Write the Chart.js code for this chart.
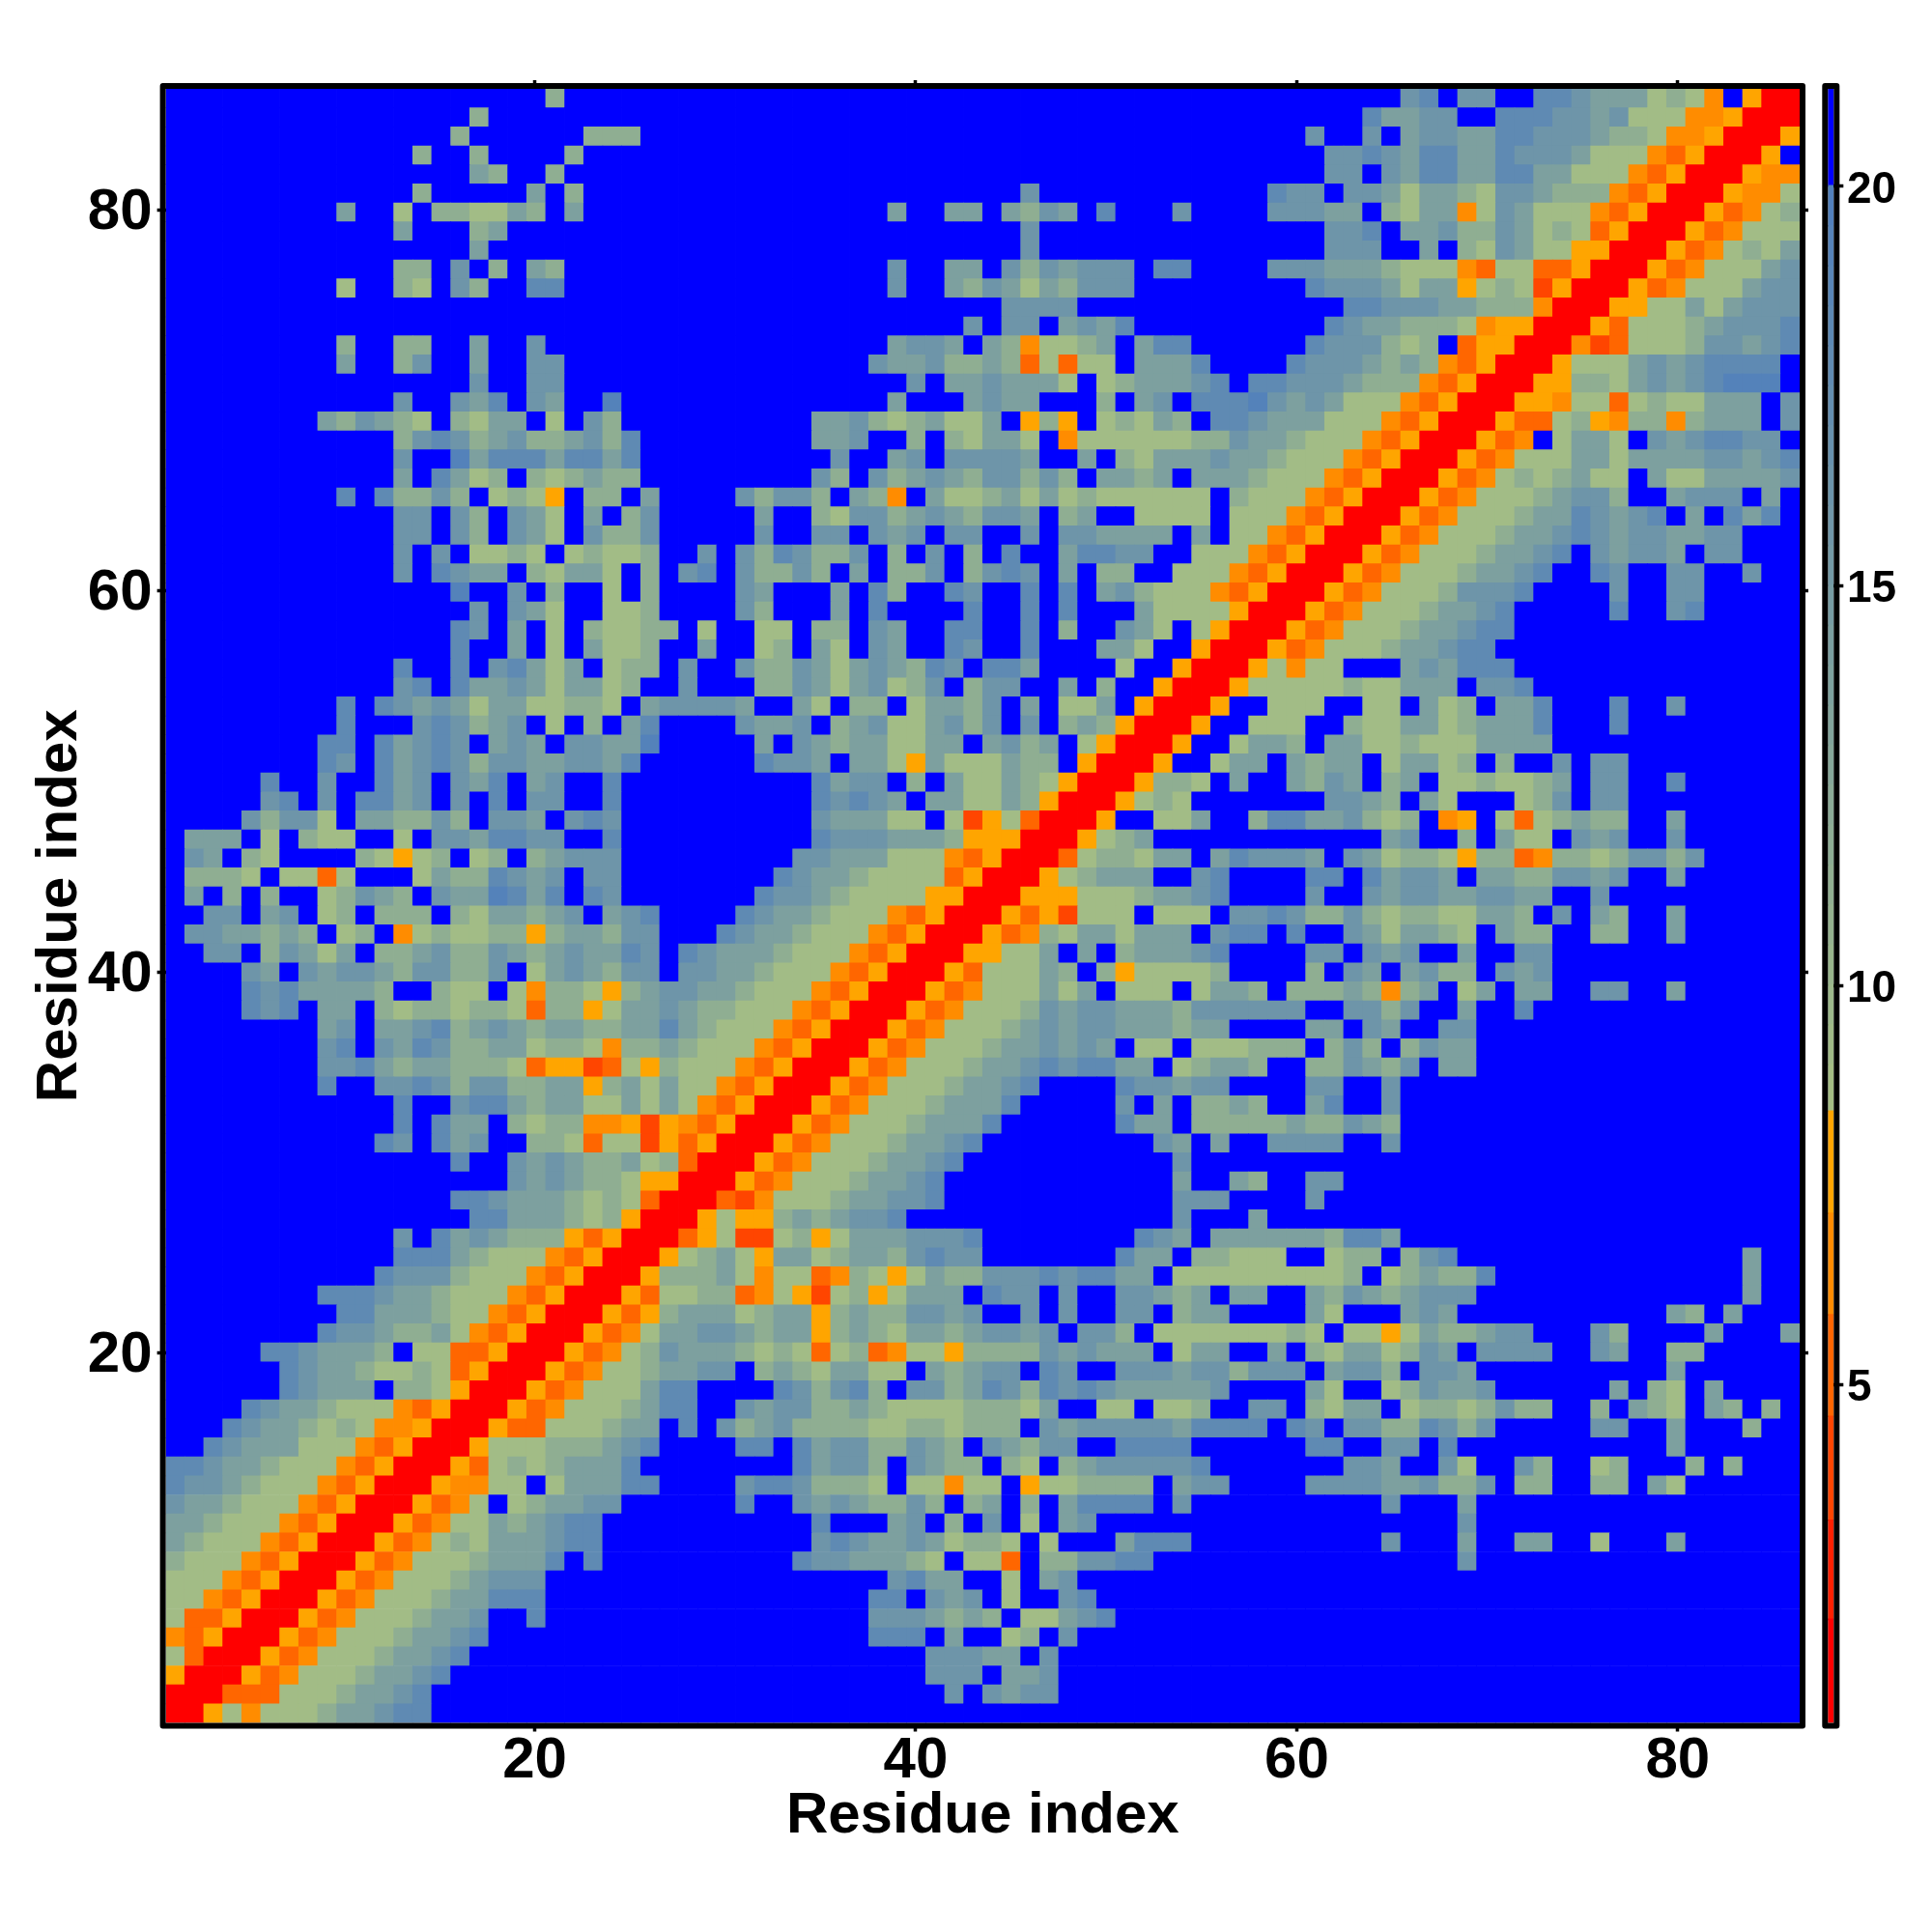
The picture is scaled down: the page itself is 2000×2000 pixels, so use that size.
<!DOCTYPE html>
<html>
<head>
<meta charset="utf-8">
<title>Residue distance map</title>
<style>
  html, body { margin: 0; padding: 0; background: #fff; }
  #wrap { position: relative; width: 2000px; height: 2000px; }
  #map { position: absolute; left: 0; top: 0; }
  #bar { position: absolute; left: 1860px; top: 0; }
</style>
<script src="https://cdn.jsdelivr.net/npm/chart.js@4/dist/chart.umd.min.js"></script>
</head>
<body>
<div id="wrap">
  <canvas id="map" width="2000" height="2000"></canvas>
  <canvas id="bar" width="140" height="2000"></canvas>
</div>
<script>
// one code per distance level
const levelCodes = ['r', 't', 'u', 'v', 'w', 'a', 'b', 'c', 'd', 'e', 'f', '.'];
const levelValues = [1.5, 4, 5.2, 6.5, 7.8, 9, 11.5, 14, 16, 18, 19.5, 21];

const residueTicks = [20, 40, 60, 80];
const barTicks = [5, 10, 15, 20];
const barEdges = [0.77, 2.06, 3.3, 4.6, 5.87, 7.14, 8.42, 9, 9.5, 10, 10.5, 11, 11.5, 12, 12.5, 13, 13.5, 14, 14.5, 15, 15.5, 16, 16.5, 17, 17.5, 18, 18.5, 19, 19.5, 20, 21.22];
const axisTitle = 'Residue index';

// rows of the map, residue 86 first, columns in groups of ten
const cellRows = [
  '.......... .......... b......... .......... .......... .......... .....de.dd ..eedcccab av.wrr',
  '.......... ......b... .......... .......... .......... .......... ...eccdd.. eeeddcdaaa vvwrrr',
  '.......... .....b.... ..bbb..... .......... .......... .......... d..d.cddcc eedddcbbav vwrrrw',
  '.......... ...b..b... .b........ .......... .......... .......... .ddedceecc edddcaaavu wrrrw.',
  '.......... ......cb.. b......... .......... .......... .......... .dd.dceecc eeccaaavuw rrrwvv',
  '.......... ...b.....c .b........ .......... .....d.... ........ed d.ddcaccba ddcbbbvuwr rrwvva',
  '.........c ..a.bbaacb .c........ ........c. .cc.cbdc.e ...d....dd dcc.baccva dcaaavuwrr rwuvab',
  '.......... ..c...bc.. .......... .......... .....d.... .......... .dde.ccdbb dcabauwrrr wuvaaa',
  '.......... ......c... .......... .......... .....d.... .......... .ddd..c.ba dcaawwrrrw uvabac',
  '.......... ..bb.d.b.c b......... ........d. .cc.dbdcdd d.ee....dd dcccbaaavu aauuwrrrwu vaaacd',
  '.........a ..ba.db..e e......... ........d. .cbdcacbdd d......... edddcaccwa batwrrrwuv aaacdd',
  '.......... .......... .......... .......... ....dddd.. .......... ..eedddccb bbvrrrwwaa cacddd',
  '.......... .......... .......... .......... ..d.dd.cdc e......... .edccbbbav wwrrrwuaaa bcddde',
  '.........b ..bb..c..d .......... ........cd dc.cbvaabc .cee...... edddbab.uw wrrrvtuaaa bddcde',
  '.........c ..bd..c..d d......... .......dcc dbbcbuauaa .ccce....e dddcbcbvuw rrrwaaacdc deeee.',
  '.......... ......d..d d......... .........d .ccdccca.a bcccde.eed ddcbbbvuwr rrwwbbacdc defff.',
  '.......... ..d..dce.d c..f...... ........c. ..cdcc...b .cd.eeefdc dcaaavuwrr rwwvaauaba accc.d',
  '........cb dcba.bacc. a.db...... ....ccdbab caac.wbw.a bacb.eedcc caaavuwrrr wuuabwvbbv bccc.d',
  '.......... ..bdedbcdb bcdbe..... ....ccd..b .bacca.vaa aaaabbdccb aaavuwrrrw uv.acca.dc deedd.',
  '.......... ..d..fceee ceece..... .....d..cd .ddddc..c. bacccdccba aavuwrrrwu vaaaccaccc cddcde',
  '.......... ..c.ecab.b abcbb..... ....db.dbc dcbddbdb.c cbc.cccbaa avuwrrrwuv ababcaa.ca accccd',
  '.........e .ebbdb.aba w.bb.c.... dbddb.cbv. caabcacaba aaaaa.baaa vuwrrrwuva aabcddb..c ddd.c.',
  '.......... ..dd.db.dc a.c.bd.... .c..baddbc dcbddc.bc. .aaaa.aaav uwrrrwuvaa abccedcde. c.ece.',
  '.......... ..dd.db.dc a.dbbd.... .d..dd.dcd .dd..d.ddc ccc.c.aavu wrrrwuvaaa bccdedcddc cdd...',
  '.......... ..d.d.aaba .abaab..d. dbedbbd.b. d.b.e..cee dd..aaavuw rrrwuvaaab ccde.dcddc .dd...',
  '.......... ..d.edcc.b acca.b.de. dbbdb.c.bb d.bded.c.b b..aaavuwr rrwuvaaabc cde..ed..d d..d..',
  '.......... .....f..d. b..a.b.... dc...c.eb. .ed..e.e.c dbaaavuwrr rwuvaaabdd de....d..d d.....',
  '.......... ......d.dc a..aab.... db...c.e.. ..e..e.e.. .caaaawrrr wuvaaabccd e.....e..d e.....',
  '.......... .....ed.c. a.baabb.a. .aa.bb.dc. .ee..e.b.. dca.awrrrw uvaaabccde e......... ......',
  '.......... .....e..c. a.caab..c. .ab.ca.dc. .ed..e...c ca..wrrrwu vaaabccdee .......... ......',
  '.......... ..e..e.dec ac.abb.d.. dbbdcacdcb ed.eec.... a..wrrrwav aa...cdcee e......... ......',
  '.......... ..de.eccdc accab..d.. .bbdcacdab d.bdd..c.b ..wrrrwaaa aabaaccc.d de........ ......',
  '.........e .edcdcacca abba.cdddd c..ca.bb.a ccbd.c.aac .wrrrw..aa a..aa.cab. cce...e..d ......',
  '.........e ...dedbcd. a.b.ce.... dccd.bcdaa cdbd.d.bcb wrrrw..aaa ..baaccabc cce...e... ......',
  '........ee .ecded.cdc .ddccf.... .c.dcbccaa cc.cdbc.aw rrrw..accb .ccaabaaac ccc....... ......',
  '........ed .ecdedbddc cddce..... .eddc.ccaw caaacbb.wr rrw..acc.c bcc.accab. b..d.dd... ......',
  '.....e..d. .ecd.dce.c d..e...... ....ecdd.b .caacbawrr rwbba.c..c bdc.bc.aab aabc.dd..e ......',
  '.....de.d. eecd.d.e.d d..e...... ....ededc. ccaacbwrrr waba...... .ddcb.ca.. .abd.dd... ......',
  '....dbdda. ccbbdb.ddc .ded...... ....dcccaa .atwaurrrw ..aac..bee ccdbab.vw. auabcbb..c ......',
  '.ccc.a.baa ..a.ddceed d..e...... ....edddcc cbwwwrrrwa bc........ ....cd..b. caa.dcd..d ......',
  '.dc.ba.... bawab.ab.b cddd...... ...ddcccaa avuwrrruab bacc.ceddd c.dcabbawb buvbbabddb d.....',
  '.bbba.aaua ...acbbedc d.dd...... ..edccbaaa auwrrrwabc cc..de.... ee.ecddc.c cbbddcd..c ......',
  '.c.b.b..ab dcb.dccfec e.ed...... .eddcbaaaa wwrrrwwwaa abccde.... d..dcddccd dcc..d.... ......',
  '..dd.cd.ab .bbb.baccb cd.cde.... edccbaaavu wrrrwuwtaa a.aaa.dded bbdbabbaac cb.d.cb..c ......',
  '.ddccbcb.a b.vabaabbw bccbdd...e dccbaaavuw rrrwuvbacc accc.dee.e ..dcaccba. cbb..bb..c ......',
  '..dd.bdcac .bbcdbbdcb cdcced.edc ccbaaavuwr rrwwaac.c. bcccde.... dd.dcd..c. .dd....... ......',
  '....dc.dcd dcbddbbd.a cdcbdd.ddc cbaaavuwrr rwuaaacb.b waaaab.... b.dc.cdbb. dcd....... ......',
  '....edeccc cb..baa.av bbawbcddcc baaavuwrrr wuvaaacac. aaa.accb.b bbcbvbc.ac .cc..dd..c ......',
  '....ede.cc .babbabbau bbwaccdcbb aaavuwrrrw uvaaabdcdd cccbdddddd ..ddbd..c. .e........ ......',
  '........cd .ccdebcdcb ccbbccecba aavuwrrrwu vaaabcdcdd cccbcc.... cc.dc..dd. .......... ......',
  '........de .dcedbbcca bbavbbcbaa avuwrrrwuv aaabccdcdc .aa.aaabbb .bdb.bdcc. .......... ......',
  '........dd ecbccbbbau wwtuawbaaa vuwrrrwuva aabccdedee cc.abccb.. bbdcbd.cc. .......... ......',
  '........e. .ddedbddbb ccwbcacaav uwrrrwuvaa abccde.... eddcdd.... dd..d..... .......... ......',
  '.......... ..e..deecb ccaacacavu wrrrwuvaaa bccce..... d.c.bbcb.. ce..d..... .......... ......',
  '.......... ..e.ecc.ba bbvvwtwvuw rrrwuvaaab ccce...... ecc.bbbbbc bbdcb..... .......... ......',
  '.......... .ed.ecd..b bauaatwuwr rrwuvaaabc cde....... ..dc.c..dd dd..d..... .......... ......',
  '.......... .....e..dc dcbbcaburr rwuvaaabcc de........ ...d...... .......... .......... ......',
  '.......... ........dc dcbbawwrrr wuvaaabccd e......... ...c..cb.. dd........ .......... ......',
  '.......... .....eedcc cbabaurrru tvaaabccdd e......... ...ddd.... d......... .......... ......',
  '.......... ......eecc cbabwrrrwa wwbcbcdde. .......... ...d...c.. .......... .......... ......',
  '.......... ..d.ecdcbb bwuwrrruwa ttabwacccd dde....... .edc.ccccc cbeec..... .......... ......',
  '.......... ..eeecbaaa vuwrrrwabc awccabccbd edd....... ecc.bbaaa. .abb.bde.. .......... ...c..',
  '.......... .edddbaaav uwrrrwbbbc avaauvbawa cbbdddedee cc.aaaaaaa aab.abcbbe .......... ...c..',
  '........ee edccbaaavu wrrrwuaabb uvawtabwac cc.edd.d.. ddcbc.cc.. cbdcbcddd. .......... ...c..',
  '.........e ecccbaavuw rrrwuwbccc abccwbcbbd dcd..d.d.. dd.bcc.... ca...cdc.. .........c b.c...',
  '........ed dcbbcavuwr rrwuvaccdd cbccwbcbac cbcddcd.dd b.aaaaaaab a.aawacbbc dd...db... .c...c',
  '.....eedcc cb.aauuwrr rwuvabdccc babauabuva awbbbbdcdc cc.acc..c. baccabdc.d ddd..dc..b b.....',
  '......edcc baabauwrrr wuvaabccdd .bcbaccaa. cbcdd.ed.. dddcddbddd .cddb.ddc. .........c ......',
  '......edcc c.bbawrrrw uvaaacee.. ..edbdeb.d dbcedbeded cccccd.... ca..abdccd ......c.ba .c....',
  '....edccba aavuwrrrwu vaaabcee.. dcddbbcbaa aabbbac..a a.aab..dd. bacc.abbab dbb..b.cba .cb.b.',
  '...edccbab avvwrrrwuu aaabcc.e.d bcdbbbbaab babbb.dcdd dddceeee.e d.ddbbedbd .....dd..c ...b..',
  '..edcccaaa vuwrrrwaaa bbbcde.... ee.ecddbbd cb.dcbdd.. eeee...... ee..dd.e.. .........c ......',
  'eedccbaaav uwrrrwuaba bccce..... ...ecddb.d cbb.ba.bcd dddde..... ..ddc..da. .db..ab... b.b...',
  'eddcbaaavu wrrrwvvaa. acccee.... deedbbba.a avaa.waabb bb.cdd.... ddddccdbbd .bb..bb.ca ......',
  'dccbaaavuw rrrwuva.ab ccdd...... e..dcdcbbd b.bc.b.cee ee.d...... ....d...c. .......... ......',
  'ccbaaavuwr rrwuvaacbc dee....... ....e...cd .b.d.a.cd. .......... ........d. .......... ......',
  'cbaaavuwrr rwuvabaccc dee....... ....dedccd cabba.a... ceee...... ....d...c. .cc..a...c ......',
  'baaavuwrrr wuvaaabccc e.e....... ...eddcccb a.aau.bbdd ee........ ........d. .......... ......',
  'aaavuwrrrw uvaaabcddd .......... ........de cc..a.cd.. .......... .......... .......... ......',
  'aavuwrrrwu vaaabcceee .......... .......ee. dcd.a..de. .......... .......... .......... ......',
  'auuwrrrwuv aaabccd..e .......... .......ddd cbcb.aacde .......... .......... .......... ......',
  'vuwrrrwuva aabccde... .......... .......eee .c..ab.d.. .......... .......... .......... ......',
  'aurrrwuvaa abccde.... .......... .......... dddcc.d... .......... .......... .......... ......',
  'wrrrwuvaaa bccde..... .......... .......... ddd.ccd... .......... .......... .......... ......',
  'rrruuuaaab ccde...... .......... .......... .d.dcdd... .......... .......... .......... ......',
  'rrwavaaabc cdee...... .......... .......... .......... .......... .......... .......... ......'
];

const FONT = 'Liberation Sans, Arial, sans-serif';
const CELL_RADIUS = (1691.4 / 86 + 0.7) / Math.SQRT2;

// same colour steps as the colour bar
function colorFor(v) {
  if (v > 20) return '#0000ff';
  if (v > 8.42) {
    const t = (v - 8.42) / 11.58;
    const r = Math.round(166 + (80 - 166) * t);
    const g = Math.round(191 + (127 - 191) * t);
    const b = Math.round(131 + (189 - 131) * t);
    return `rgb(${r},${g},${b})`;
  }
  if (v > 7.14) return '#ffa500';
  if (v > 5.87) return '#ff8c00';
  if (v > 4.6) return '#ff6600';
  if (v > 3.3) return '#ff4500';
  if (v > 2.06) return '#ff2000';
  return '#ff0000';
}

const cells = [];
cellRows.forEach((row, i) => {
  row.replace(/ /g, '').split('').forEach((code, j) => {
    cells.push({ x: j + 1, y: 86 - i, v: levelValues[levelCodes.indexOf(code)] });
  });
});

// thick black box round the plot
const framePlugin = {
  id: 'frame',
  afterDraw(chart) {
    const a = chart.chartArea;
    const c = chart.ctx;
    c.save();
    c.strokeStyle = '#000';
    c.lineWidth = 6;
    c.lineJoin = 'round';
    c.strokeRect(a.left - 3, a.top - 3, a.width + 6, a.height + 6);
    c.restore();
  }
};

const useTicks = list => scale => { scale.ticks = list.map(v => ({ value: v })); };
const fitWidth = w => scale => { scale.width = w; };
const fitHeight = h => scale => { scale.height = h; };
const tickGrid = { drawOnChartArea: false, drawTicks: true, tickLength: 9, tickWidth: 3.5, tickColor: '#000', color: '#000' };
const tickFont = { family: FONT, size: 60, weight: 'bold', lineHeight: 1 };
const titleFont = { family: FONT, size: 60, weight: 'bold' };

// the ticked axes run a little short of the image edges, as in the original plot
const X_RANGE = { min: 0.63, max: 86.4 };
const Y_RANGE = { min: 0.59, max: 86.36 };

new Chart(document.getElementById('map'), {
  type: 'scatter',
  data: {
    datasets: [{
      data: cells,
      xAxisID: 'xCell',
      yAxisID: 'yCell',
      pointStyle: 'rect',
      pointBorderWidth: 0,
      pointRadius: CELL_RADIUS,
      pointBackgroundColor: c => colorFor(c.raw ? c.raw.v : 21)
    }]
  },
  plugins: [framePlugin],
  options: {
    responsive: false,
    animation: false,
    events: [],
    layout: { padding: 0 },
    plugins: { legend: { display: false }, tooltip: { enabled: false } },
    scales: {
      xCell: { type: 'linear', axis: 'x', position: 'bottom', display: false, min: 0.5, max: 86.5 },
      yCell: { type: 'linear', axis: 'y', position: 'left', display: false, min: 0.5, max: 86.5 },
      x: {
        type: 'linear', position: 'bottom', ...X_RANGE,
        afterBuildTicks: useTicks(residueTicks),
        afterFit: fitHeight(216.5),
        border: { display: false },
        grid: tickGrid,
        ticks: { color: '#000', font: tickFont, padding: 0.5, maxRotation: 0, autoSkip: false },
        title: { display: true, text: axisTitle, color: '#000', font: titleFont, padding: { top: 0, bottom: 84 } }
      },
      y: {
        type: 'linear', position: 'left', ...Y_RANGE,
        afterBuildTicks: useTicks(residueTicks),
        afterFit: fitWidth(171.6),
        border: { display: false },
        grid: tickGrid,
        ticks: { color: '#000', font: tickFont, padding: 5, labelOffset: 3, autoSkip: false },
        title: { display: true, text: axisTitle, color: '#000', font: titleFont, padding: { top: 26.5, bottom: 0 } }
      },
      xTop: {
        type: 'linear', position: 'top', ...X_RANGE,
        afterBuildTicks: useTicks(residueTicks),
        afterFit: fitHeight(92),
        border: { display: false },
        grid: tickGrid,
        ticks: { display: false }
      },
      yRight: {
        type: 'linear', position: 'right', ...Y_RANGE,
        afterBuildTicks: useTicks(residueTicks),
        afterFit: fitWidth(137),
        border: { display: false },
        grid: tickGrid,
        ticks: { display: false }
      }
    }
  }
});

// colour bar, one floating bar per colour step
const bands = barEdges.slice(0, -1).map((lo, i) => ({
  data: [[lo, barEdges[i + 1] + 0.012]],
  backgroundColor: colorFor((lo + barEdges[i + 1]) / 2),
  borderWidth: 0,
  barPercentage: 1,
  categoryPercentage: 1
}));

new Chart(document.getElementById('bar'), {
  type: 'bar',
  data: { labels: [''], datasets: bands },
  plugins: [framePlugin],
  options: {
    responsive: false,
    animation: false,
    events: [],
    layout: { padding: { left: 32.3, top: 92, bottom: 216.5, right: 0 } },
    plugins: { legend: { display: false }, tooltip: { enabled: false } },
    scales: {
      x: { display: false, stacked: true },
      y: {
        position: 'right', min: 0.77, max: 21.22,
        afterBuildTicks: useTicks(barTicks),
        afterFit: fitWidth(101.7),
        border: { display: false },
        grid: { drawOnChartArea: false, drawTicks: true, tickLength: 10, tickWidth: 3.5, tickColor: '#000', color: '#000' },
        ticks: { color: '#000', font: { family: FONT, size: 46, weight: 'bold', lineHeight: 1 }, padding: 3.7, labelOffset: 4, autoSkip: false }
      }
    }
  }
});
</script>
</body>
</html>
